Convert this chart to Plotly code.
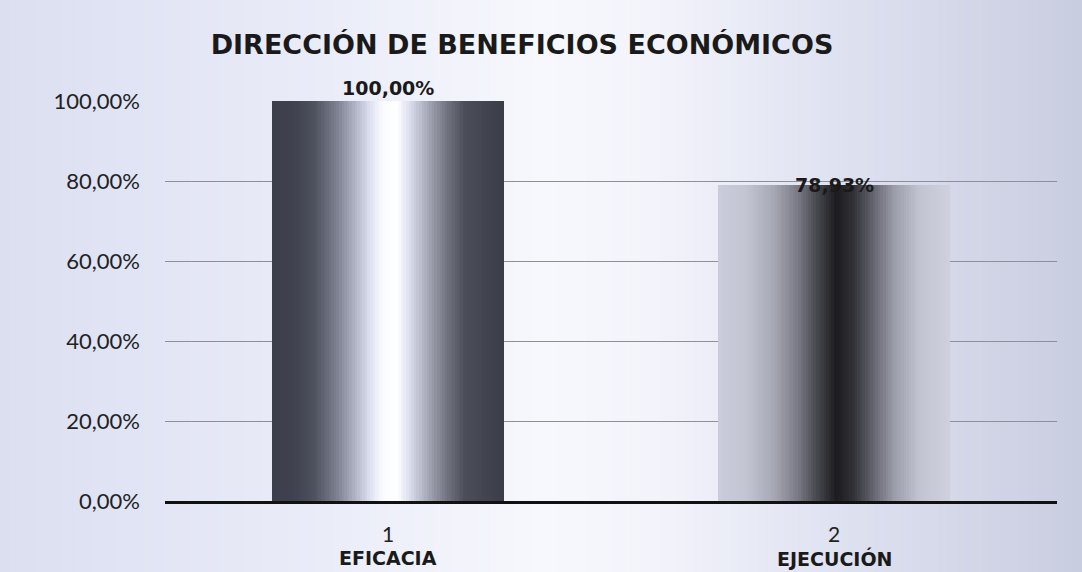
import plotly.graph_objects as go

# ---- data ----
categories = ["EFICACIA", "EJECUCIÓN"]
tick_numbers = ["1", "2"]
values = [1.0, 0.7893]
title_text = "DIRECCIÓN DE BENEFICIOS ECONÓMICOS"
y_ticks = [0, 0.2, 0.4, 0.6, 0.8, 1.0]

# ---- style ----
W, H = 1082, 572
ML, MR, MT, MB = 165, 25, 101, 71
BAR_W = 0.52
N_SLICES = 90
BOLD_FONT = "DejaVu Sans, Liberation Sans, Arial"
bar_stops = [
    [(0, "#3b3e4b"), (0.1, "#40434f"), (0.18, "#4d505d"), (0.28, "#7d8090"),
     (0.37, "#b9bccd"), (0.43, "#e2e5f4"), (0.48, "#fbfcff"), (0.54, "#ffffff"),
     (0.59, "#dcdfee"), (0.67, "#a6a9b8"), (0.75, "#747683"), (0.83, "#4b4d59"),
     (1, "#3a3c48")],
    [(0, "#cbccdb"), (0.12, "#c4c5d3"), (0.24, "#a7a8b5"), (0.34, "#7b7c86"),
     (0.43, "#45454c"), (0.51, "#1c1c20"), (0.58, "#2f2f35"), (0.66, "#5e5f68"),
     (0.76, "#9c9daa"), (0.87, "#c3c4d2"), (1, "#d0d1df")],
]
bg_stops = [(0, "#dcdff0"), (0.12, "#e1e4f4"), (0.3, "#eaecf8"), (0.5, "#f7f8fd"),
            (0.6, "#f3f4fb"), (0.78, "#dee1f0"), (1, "#c9cde0")]


def hex2rgb(h):
    h = h.lstrip("#")
    return tuple(int(h[i:i + 2], 16) for i in (0, 2, 4))


def interp(stops, t):
    for (p0, c0), (p1, c1) in zip(stops[:-1], stops[1:]):
        if p0 <= t <= p1:
            f = 0 if p1 == p0 else (t - p0) / (p1 - p0)
            a, b = hex2rgb(c0), hex2rgb(c1)
            r = [round(a[i] + (b[i] - a[i]) * f) for i in range(3)]
            return f"rgb({r[0]},{r[1]},{r[2]})"
    return stops[-1][1]


fig = go.Figure()

# gradient bars built from thin overlaid slices
slice_w = BAR_W / N_SLICES
for i, (cat, v) in enumerate(zip(categories, values)):
    offs = [-BAR_W / 2 + k * slice_w for k in range(N_SLICES)]
    widths = [slice_w * (1.35 if k < N_SLICES - 1 else 1.0) for k in range(N_SLICES)]
    cols = [interp(bar_stops[i], (k + 0.5) / N_SLICES) for k in range(N_SLICES)]
    fig.add_trace(go.Bar(
        x=[i] * N_SLICES, y=[v] * N_SLICES,
        offset=offs, width=widths,
        marker=dict(color=cols, line=dict(width=0)),
        hoverinfo="skip", showlegend=False,
    ))

# background gradient strips
pw, ph = W - ML - MR, H - MT - MB
x_left, x_right = -ML / pw, 1 + MR / pw
y_bot, y_top = -MB / ph, 1 + MT / ph
NS = 120
shapes = []
for k in range(NS):
    t = (k + 0.5) / NS
    x0 = x_left + (x_right - x_left) * k / NS
    x1 = x_left + (x_right - x_left) * (k + 1) / NS + 0.002
    shapes.append(dict(type="rect", xref="paper", yref="paper", layer="below",
                       x0=x0, x1=x1, y0=y_bot, y1=y_top,
                       fillcolor=interp(bg_stops, t), line=dict(width=0)))

annotations = []
anchors = ["bottom", "middle"]
for i, v in enumerate(values):
    label = f"{v * 100:.2f}%".replace(".", ",")
    annotations.append(dict(x=i, y=v, xref="x", yref="y", text=f"<b>{label}</b>",
                            showarrow=False, yanchor=anchors[i], yshift=0,
                            font=dict(family=BOLD_FONT, size=19, color="#1a1a1a")))
for i, c in enumerate(categories):
    annotations.append(dict(x=i, y=0, xref="x", yref="paper", text=f"<b>{c}</b>",
                            showarrow=False, yanchor="middle", yshift=-57,
                            font=dict(family=BOLD_FONT, size=19, color="#1a1a1a")))

fig.update_layout(
    width=W, height=H,
    margin=dict(l=ML, r=MR, t=MT, b=MB),
    paper_bgcolor="#eef0f8",
    plot_bgcolor="rgba(0,0,0,0)",
    barmode="overlay",
    bargap=0,
    separators=",.",
    shapes=shapes,
    annotations=annotations,
    title=dict(text=f"<b>{title_text}</b>", x=522 / W, xanchor="center",
               xref="container", y=1 - 45 / H, yanchor="middle", yref="container",
               font=dict(family=BOLD_FONT, size=27, color="#1a1a1a")),
    xaxis=dict(range=[-0.5, 1.5], tickvals=[0, 1], ticktext=tick_numbers,
               showgrid=False, zeroline=False, showline=True,
               linecolor="#111111", linewidth=3, ticks="",
               ticklabelstandoff=13,
               tickfont=dict(family="Lato", size=21, color="#222222")),
    yaxis=dict(range=[0, 1], tickvals=y_ticks, tickformat=".2%",
               showgrid=True, gridcolor="#8e8f9b", gridwidth=1,
               zeroline=False, showline=False, ticks="",
               ticklabelstandoff=24,
               tickfont=dict(family="Lato", size=22, color="#222222")),
)

fig.write_html("out.html", config={"displayModeBar": False},
               post_script="document.body.style.margin='0';document.body.style.padding='0';")
